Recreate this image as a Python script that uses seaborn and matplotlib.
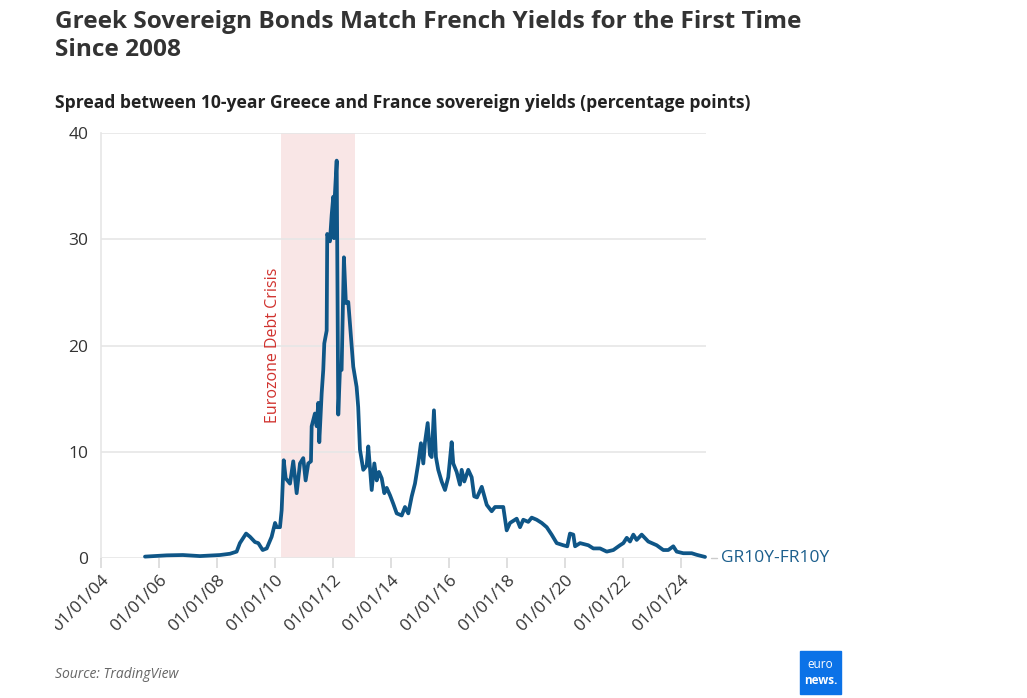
import numpy as np
import pandas as pd
import matplotlib
matplotlib.use("Agg")
import matplotlib.pyplot as plt
import matplotlib.dates as mdates
from matplotlib.patches import Rectangle
from matplotlib.transforms import Bbox, TransformedBbox
import seaborn as sns

# Spread GR10Y - FR10Y (percentage points)
dates = [
    "2005-07-08", "2006-04-07", "2006-10-29", "2007-05-31", "2008-02-07",
    "2008-06-12", "2008-09-04", "2008-10-15", "2009-01-01", "2009-02-19",
    "2009-04-23", "2009-06-04", "2009-07-29", "2009-09-18", "2009-11-19",
    "2010-01-01", "2010-01-22", "2010-03-04", "2010-03-25", "2010-04-20",
    "2010-05-15", "2010-07-08", "2010-08-18", "2010-09-30", "2010-11-11",
    "2010-12-22", "2011-01-21", "2011-02-23", "2011-03-29", "2011-04-07",
    "2011-05-18", "2011-06-09", "2011-06-29", "2011-07-12", "2011-08-11",
    "2011-08-31", "2011-09-13", "2011-10-13", "2011-10-20", "2011-11-23",
    "2011-12-15", "2012-01-04", "2012-01-12", "2012-01-25", "2012-02-16",
    "2012-03-07", "2012-03-28", "2012-04-18", "2012-05-17", "2012-06-11",
    "2012-07-11", "2012-08-01", "2012-09-12", "2012-10-24", "2012-11-13",
    "2012-12-05", "2013-01-16", "2013-02-28", "2013-03-20", "2013-05-02",
    "2013-06-04", "2013-07-04", "2013-08-02", "2013-09-05", "2013-10-08",
    "2013-11-07", "2013-12-19", "2014-01-29", "2014-03-13", "2014-05-15",
    "2014-06-25", "2014-08-06", "2014-09-18", "2014-10-29", "2014-12-09",
    "2015-01-12", "2015-02-11", "2015-03-04", "2015-04-07", "2015-05-06",
    "2015-05-27", "2015-06-25", "2015-07-20", "2015-08-18", "2015-09-30",
    "2015-11-11", "2015-12-22", "2016-02-03", "2016-02-23", "2016-04-06",
    "2016-05-17", "2016-06-08", "2016-07-11", "2016-08-30", "2016-10-12",
    "2016-11-13", "2016-12-18", "2017-02-16", "2017-04-20", "2017-06-21",
    "2017-08-02", "2017-11-14", "2017-12-27", "2018-02-07", "2018-05-02",
    "2018-06-13", "2018-07-24", "2018-09-25", "2018-11-07", "2019-01-09",
    "2019-03-13", "2019-05-15", "2019-07-16", "2019-09-18", "2019-12-10",
    "2020-01-29", "2020-03-03", "2020-04-14", "2020-05-06", "2020-07-08",
    "2020-10-20", "2020-12-22", "2021-03-17", "2021-06-09", "2021-08-31",
    "2021-11-23", "2022-01-04", "2022-02-16", "2022-03-29", "2022-05-10",
    "2022-06-21", "2022-08-23", "2022-11-14", "2023-02-28", "2023-05-22",
    "2023-07-24", "2023-09-25", "2023-11-07", "2024-01-29", "2024-05-14",
    "2024-07-16", "2024-10-29",
]
spread = [
    0.13, 0.25, 0.28, 0.18, 0.28,
    0.4, 0.6, 1.4, 2.3, 2.0,
    1.5, 1.4, 0.75, 0.9, 2.0,
    3.3, 2.9, 2.9, 4.5, 9.2,
    7.5, 7.0, 9.1, 6.1, 8.9,
    9.4, 7.3, 8.9, 9.1, 12.4,
    13.6, 12.4, 14.6, 10.9, 15.5,
    17.7, 20.2, 21.4, 30.5, 29.8,
    32.3, 34.0, 30.1, 34.3, 37.4,
    13.5, 17.7, 17.7, 28.3, 24.0,
    24.1, 22.1, 18.0, 16.1, 14.2,
    10.2, 8.3, 8.7, 10.5, 6.4,
    8.9, 7.3, 8.1, 7.5, 6.1,
    6.6, 5.9, 5.1, 4.2, 4.0,
    4.8, 4.2, 5.8, 7.0, 8.9,
    10.8, 8.9, 10.9, 12.7, 9.7,
    9.5, 13.9, 9.5, 8.3, 7.2,
    6.4, 7.6, 10.9, 8.9, 8.1,
    6.9, 8.3, 7.2, 8.3, 7.6,
    5.8, 5.7, 6.7, 5.0, 4.4,
    4.8, 4.8, 2.6, 3.3, 3.7,
    2.9, 3.6, 3.4, 3.8, 3.6,
    3.3, 2.9, 2.2, 1.4, 1.2,
    1.1, 2.3, 2.2, 1.1, 1.4,
    1.2, 0.9, 0.9, 0.6, 0.75,
    1.2, 1.4, 1.9, 1.55, 2.2,
    1.7, 2.2, 1.55, 1.2, 0.75,
    0.75, 1.1, 0.6, 0.45, 0.45,
    0.3, 0.1,
]
crisis_start, crisis_end = "2010-03-16", "2012-10-04"
x_ticks = [f"{y}-01-01" for y in range(2004, 2025, 2)]
y_ticks = [0, 10, 20, 30, 40]
series_name = "GR10Y-FR10Y"

df = pd.DataFrame({"date": pd.to_datetime(dates), "spread": spread})

sns.set_theme(style="white")
plt.rcParams["font.family"] = ["Open Sans", "DejaVu Sans"]

line_color = "#0f5687"
text_dark = "#333333"
grid_color = "#e6e6e6"

fig = plt.figure(figsize=(10.27, 6.98), dpi=100)
ax = fig.add_axes([101 / 1027, 1 - 558 / 698, 605 / 1027, 425 / 698])

ax.axvspan(pd.Timestamp(crisis_start), pd.Timestamp(crisis_end),
           color="#f9e6e6", zorder=0, lw=0)
sns.lineplot(data=df, x="date", y="spread", ax=ax, color=line_color,
             linewidth=2.7, zorder=3, clip_on=False)

ax.set_xlim(pd.Timestamp("2004-01-01"), pd.Timestamp("2024-11-10"))
ax.set_ylim(0, 40)
ax.set_yticks(y_ticks)
ax.set_xticks(pd.to_datetime(x_ticks))
ax.xaxis.set_major_formatter(mdates.DateFormatter("%m/%d/%y"))
ax.set_xlabel("")
ax.set_ylabel("")

ax.grid(axis="y", color=grid_color, linewidth=1.2)
ax.grid(axis="x", visible=False)
for side in ["top", "right", "bottom"]:
    ax.spines[side].set_visible(False)
ax.spines["left"].set_color(grid_color)
ax.spines["left"].set_linewidth(1.2)
ax.spines["left"].set_zorder(0)

ax.tick_params(axis="y", length=0, pad=9, labelsize=12.5, labelcolor=text_dark)
ax.tick_params(axis="x", length=7, width=1.2, color="#d9d9d9", pad=3,
               labelsize=12.5, labelcolor=text_dark, bottom=True)
clip = TransformedBbox(Bbox([[55 / 1027, 0], [1, 1]]), fig.transFigure)
for lbl in ax.get_xticklabels():
    lbl.set_rotation(45)
    lbl.set_ha("right")
    lbl.set_rotation_mode("anchor")
    lbl.set_clip_box(clip)
    lbl.set_clip_on(True)

# crisis label
ax.text(pd.Timestamp("2009-12-10"), 12.75, "Eurozone Debt Crisis", rotation=90,
        color="#d0312d", fontsize=11.5, ha="center", va="bottom")

# series end label
fig.lines.append(plt.Line2D([711 / 1027, 717 / 1027], [1 - 558 / 698] * 2,
                            transform=fig.transFigure, color="#cccccc", lw=1))
fig.text(721 / 1027, 1 - 558 / 698, series_name, color="#1b5e8c",
         fontsize=12.5, ha="left", va="center")

# titles
fig.text(55 / 1027, 1 - 10 / 698,
         "Greek Sovereign Bonds Match French Yields for the First Time\nSince 2008",
         fontsize=17.6, fontweight="bold", color=text_dark, ha="left", va="top",
         linespacing=1.22)
fig.text(55 / 1027, 1 - 108 / 698,
         "Spread between 10-year Greece and France sovereign yields (percentage points)",
         fontsize=12.6, fontweight="bold", color="#222222", ha="left", va="baseline")

fig.text(55 / 1027, 1 - 675 / 698, "Source: TradingView", fontsize=10,
         style="italic", color="#666666", ha="left", va="center")

# logo
fig.patches.append(Rectangle((800 / 1027, 1 - 694 / 698), 41 / 1027, 43 / 698,
                             transform=fig.transFigure, color="#0b72e7"))
fig.text(820.5 / 1027, 1 - 665 / 698, "euro", color="white", fontsize=8.5,
         ha="center", va="center")
fig.text(820.5 / 1027, 1 - 680 / 698, "news.", color="white", fontsize=8.5,
         fontweight="bold", ha="center", va="center")

fig.savefig("out.png", dpi=100, facecolor="white")
